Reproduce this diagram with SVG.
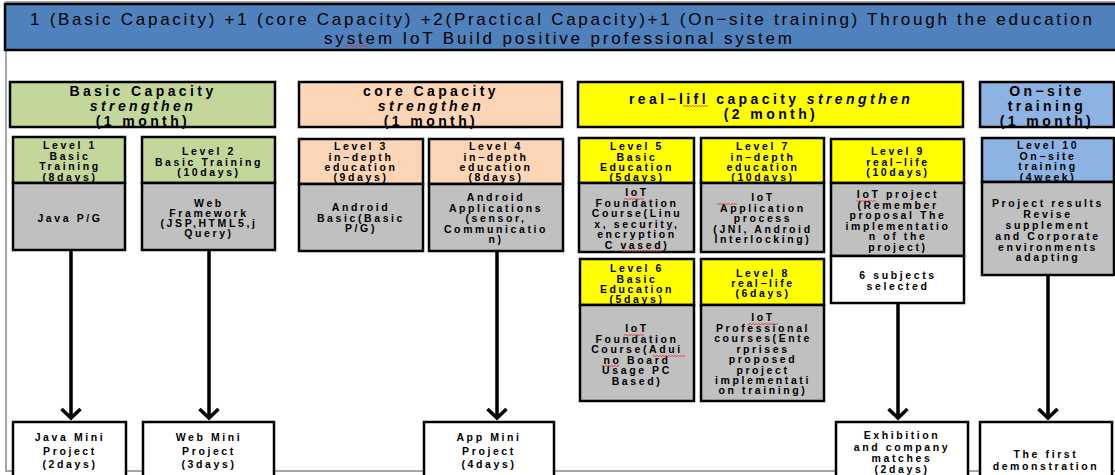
<svg xmlns="http://www.w3.org/2000/svg" width="1115" height="475" viewBox="0 0 1115 475">
<defs>
<style>
text{font-family:"Liberation Sans",Arial,sans-serif;fill:#000;text-anchor:middle}
.t{font-size:17px}
.h{font-size:14px;font-weight:bold;letter-spacing:3.4px}
.i{font-style:italic}
.s{font-size:10.5px;font-weight:bold;letter-spacing:2.6px}
.box{stroke:#000;stroke-width:2.5}
.green{fill:#C4D79B}
.peach{fill:#FBD5B5}
.yellow{fill:#FFFF00}
.lblue{fill:#8DB3E2}
.gray{fill:#C0C0C0}
.white{fill:#FFFFFF}
.conn{stroke:#000;stroke-width:3.5;fill:none}
.sq{fill:url(#squig)}
</style>
<pattern id="squig" width="3" height="2" patternUnits="userSpaceOnUse">
<path d="M0,2 L1.5,0 L3,2" stroke="#E03030" stroke-width="0.7" fill="none"/>
</pattern>
<marker id="arr" viewBox="0 0 14 22" refX="11" refY="11" markerWidth="14" markerHeight="22" markerUnits="userSpaceOnUse" orient="auto">
<path d="M2,1.5 L11,11 L2,20.5" stroke="#000" stroke-width="3.5" fill="none"/>
</marker>
</defs>

<rect x="0" y="0" width="1115" height="475" fill="#FFFFFF"/>
<rect x="6" y="2" width="1115" height="469" fill="#FFFFFF" stroke="#A6A6A6" stroke-width="2"/>

<g id="title">
<rect x="5" y="4" width="1115" height="46" fill="#4F81BD" class="box"/>
<text class="t" x="561" y="24.5" textLength="1062" lengthAdjust="spacing">1 (Basic Capacity) +1 (core Capacity) +2(Practical Capacity)+1 (On−site training) Through the education</text>
<text class="t" x="558" y="43.5" textLength="468" lengthAdjust="spacing">system IoT Build positive professional system</text>
<rect class="sq" x="345" y="45" width="23" height="2"/>
</g>

<g id="basic-capacity">
<rect x="10" y="82" width="265" height="45" class="box green"/>
<text class="h" x="143" y="95.5">Basic Capacity</text>
<text class="h i" x="143" y="110.5">strengthen</text>
<text class="h" x="143" y="126">(1 month)</text>
</g>

<g id="core-capacity">
<rect x="299" y="82" width="263" height="45" class="box peach"/>
<text class="h" x="431" y="95.5">core Capacity</text>
<text class="h i" x="431" y="110.5">strengthen</text>
<text class="h" x="431" y="126">(1 month)</text>
</g>

<g id="reallife-capacity">
<rect x="578" y="82" width="385" height="45" class="box yellow"/>
<text class="h" x="771" y="103.5">real−lifl capacity <tspan class="i">strengthen</tspan></text>
<text class="h" x="771" y="118.5">(2 month)</text>
<rect class="sq" x="683" y="105" width="25" height="2"/>
</g>

<g id="onsite-training">
<rect x="980" y="82" width="134" height="45" class="box lblue"/>
<text class="h" x="1047" y="96">On−site</text>
<text class="h" x="1047" y="111">training</text>
<text class="h" x="1047" y="126">(1 month)</text>
</g>

<g id="level1">
<rect x="13" y="137" width="112" height="46" class="box green"/>
<rect x="13" y="183" width="112" height="67" class="box gray"/>
<text class="s" x="70" y="149">Level 1</text>
<text class="s" x="70" y="159.5">Basic</text>
<text class="s" x="70" y="170">Training</text>
<text class="s" x="70" y="180.5">(8days)</text>
<text class="s" x="70" y="222">Java P/G</text>
</g>

<g id="level2">
<rect x="142" y="137" width="133" height="46" class="box green"/>
<rect x="142" y="183" width="133" height="67" class="box gray"/>
<text class="s" x="209" y="155">Level 2</text>
<text class="s" x="209" y="165.5">Basic Training</text>
<text class="s" x="209" y="176">(10days)</text>
<text class="s" x="209" y="207">Web</text>
<text class="s" x="209" y="217">Framework</text>
<text class="s" x="209" y="227">(JSP,HTML5,j</text>
<text class="s" x="209" y="237">Query)</text>
</g>

<g id="level3">
<rect x="299" y="139" width="124" height="45" class="box peach"/>
<rect x="299" y="184" width="124" height="67" class="box gray"/>
<text class="s" x="361" y="150">Level 3</text>
<text class="s" x="361" y="160.5">in−depth</text>
<text class="s" x="361" y="171">education</text>
<text class="s" x="361" y="181">(9days)</text>
<text class="s" x="361" y="211">Android</text>
<text class="s" x="361" y="221.5">Basic(Basic</text>
<text class="s" x="361" y="232">P/G)</text>
</g>

<g id="level4">
<rect x="429" y="139" width="134" height="45" class="box peach"/>
<rect x="429" y="184" width="134" height="67" class="box gray"/>
<text class="s" x="496" y="150">Level 4</text>
<text class="s" x="496" y="160.5">in−depth</text>
<text class="s" x="496" y="171">education</text>
<text class="s" x="496" y="181">(8days)</text>
<text class="s" x="496" y="201">Android</text>
<text class="s" x="496" y="211.5">Applications</text>
<text class="s" x="496" y="222">(sensor,</text>
<text class="s" x="496" y="232.5">Communicatio</text>
<text class="s" x="496" y="243">n)</text>
</g>

<g id="level5">
<rect x="579" y="138" width="115" height="45" class="box yellow"/>
<rect x="579" y="183" width="115" height="69" class="box gray"/>
<text class="s" x="637" y="150">Level 5</text>
<text class="s" x="637" y="160.5">Basic</text>
<text class="s" x="637" y="171">Education</text>
<text class="s" x="637" y="181">(5days)</text>
<text class="s" x="637" y="196">IoT</text>
<text class="s" x="637" y="206.5">Foundation</text>
<text class="s" x="637" y="217">Course(Linu</text>
<text class="s" x="637" y="227.5">x, security,</text>
<text class="s" x="637" y="238">encryption</text>
<text class="s" x="637" y="248.5">C vased)</text>
<rect class="sq" x="624" y="198" width="20" height="2"/>
<rect class="sq" x="621" y="250" width="41" height="2"/>
</g>

<g id="level7">
<rect x="701" y="138" width="123" height="45" class="box yellow"/>
<rect x="701" y="183" width="123" height="69" class="box gray"/>
<text class="s" x="763" y="150">Level 7</text>
<text class="s" x="763" y="160.5">in−depth</text>
<text class="s" x="763" y="171">education</text>
<text class="s" x="763" y="181">(10days)</text>
<text class="s" x="763" y="201">IoT</text>
<text class="s" x="763" y="211.5">Application</text>
<text class="s" x="763" y="222">process</text>
<text class="s" x="763" y="232.5">(JNI, Android</text>
<text class="s" x="763" y="243">Interlocking)</text>
<rect class="sq" x="717" y="203" width="20" height="2"/>
</g>

<g id="level9">
<rect x="831" y="139" width="133" height="44" class="box yellow"/>
<rect x="831" y="183" width="133" height="73" class="box gray"/>
<rect x="831" y="256" width="133" height="47" class="box white"/>
<text class="s" x="898" y="155">Level 9</text>
<text class="s" x="898" y="165.5">real−life</text>
<text class="s" x="898" y="176">(10days)</text>
<text class="s" x="898" y="198">IoT project</text>
<text class="s" x="898" y="208.5">(Remember</text>
<text class="s" x="898" y="219">proposal The</text>
<text class="s" x="898" y="229.5">implementatio</text>
<text class="s" x="898" y="240">n of the</text>
<text class="s" x="898" y="250.5">project)</text>
<text class="s" x="898" y="279">6 subjects</text>
<text class="s" x="898" y="289.5">selected</text>
<rect class="sq" x="856" y="200" width="20" height="2"/>
</g>

<g id="level6">
<rect x="580" y="259" width="114" height="46" class="box yellow"/>
<rect x="580" y="305" width="114" height="96" class="box gray"/>
<text class="s" x="637" y="272">Level 6</text>
<text class="s" x="637" y="282.5">Basic</text>
<text class="s" x="637" y="293">Education</text>
<text class="s" x="637" y="303">(5days)</text>
<text class="s" x="637" y="332">IoT</text>
<text class="s" x="637" y="342.5">Foundation</text>
<text class="s" x="637" y="353">Course(Adui</text>
<text class="s" x="637" y="363.5">no Board</text>
<text class="s" x="637" y="374">Usage PC</text>
<text class="s" x="637" y="384.5">Based)</text>
<rect class="sq" x="624" y="334" width="20" height="2"/>
<rect class="sq" x="653" y="355" width="32" height="2"/>
<rect class="sq" x="602" y="365" width="17" height="2"/>
</g>

<g id="level8">
<rect x="701" y="259" width="123" height="46" class="box yellow"/>
<rect x="701" y="305" width="123" height="96" class="box gray"/>
<text class="s" x="763" y="277">Level 8</text>
<text class="s" x="763" y="287">real−life</text>
<text class="s" x="763" y="297">(6days)</text>
<text class="s" x="763" y="321">IoT</text>
<text class="s" x="763" y="331.5">Professional</text>
<text class="s" x="763" y="342">courses(Ente</text>
<text class="s" x="763" y="352.5">rprises</text>
<text class="s" x="763" y="363">proposed</text>
<text class="s" x="763" y="373.5">project</text>
<text class="s" x="763" y="384">implementati</text>
<text class="s" x="763" y="394">on training)</text>
<rect class="sq" x="748" y="323" width="30" height="2"/>
</g>

<g id="level10">
<rect x="982" y="138" width="132" height="44" class="box lblue"/>
<rect x="982" y="182" width="132" height="93" class="box gray"/>
<text class="s" x="1048" y="149">Level 10</text>
<text class="s" x="1048" y="159.5">On−site</text>
<text class="s" x="1048" y="170">training</text>
<text class="s" x="1048" y="180.5">(4week)</text>
<text class="s" x="1048" y="207">Project results</text>
<text class="s" x="1048" y="218">Revise</text>
<text class="s" x="1048" y="229">supplement</text>
<text class="s" x="1048" y="240">and Corporate</text>
<text class="s" x="1048" y="250.5">environments</text>
<text class="s" x="1048" y="261">adapting</text>
</g>

<g id="connectors">
<line class="conn" x1="71" y1="251" x2="71" y2="418" marker-end="url(#arr)"/>
<line class="conn" x1="209" y1="251" x2="209" y2="418" marker-end="url(#arr)"/>
<line class="conn" x1="497" y1="252" x2="497" y2="418" marker-end="url(#arr)"/>
<line class="conn" x1="898" y1="304" x2="898" y2="418" marker-end="url(#arr)"/>
<line class="conn" x1="1048" y1="276" x2="1048" y2="418" marker-end="url(#arr)"/>
</g>

<g id="java-mini-project">
<rect x="13" y="422" width="113" height="70" class="box white"/>
<text class="s" x="70" y="441">Java Mini</text>
<text class="s" x="70" y="454.5">Project</text>
<text class="s" x="70" y="468">(2days)</text>
</g>

<g id="web-mini-project">
<rect x="143" y="422" width="131" height="70" class="box white"/>
<text class="s" x="209" y="441">Web Mini</text>
<text class="s" x="209" y="454.5">Project</text>
<text class="s" x="209" y="468">(3days)</text>
</g>

<g id="app-mini-project">
<rect x="424" y="422" width="130" height="70" class="box white"/>
<text class="s" x="489" y="441">App Mini</text>
<text class="s" x="489" y="454.5">Project</text>
<text class="s" x="489" y="468">(4days)</text>
</g>

<g id="exhibition">
<rect x="836" y="422" width="132" height="70" class="box white"/>
<text class="s" x="902" y="439">Exhibition</text>
<text class="s" x="902" y="450.5">and company</text>
<text class="s" x="902" y="462">matches</text>
<text class="s" x="902" y="473">(2days)</text>
</g>

<g id="first-demonstration">
<rect x="980" y="422" width="132" height="70" class="box white"/>
<text class="s" x="1046" y="458">The first</text>
<text class="s" x="1046" y="469.5">demonstration</text>
</g>
</svg>
